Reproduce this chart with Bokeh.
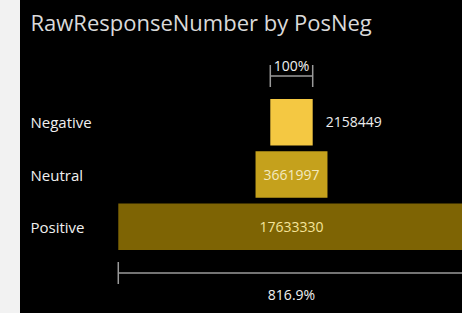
from bokeh.plotting import figure
from bokeh.models import ColumnDataSource, FactorRange, Range1d, LabelSet, Div
from bokeh.transform import dodge
from bokeh.layouts import row
from bokeh.embed import file_html
from bokeh.resources import INLINE
from bokeh.core.properties import value

# ---- data ----
title_text = "RawResponseNumber by PosNeg"
categories = ["Negative", "Neutral", "Positive"]
counts = [2158449, 3661997, 17633330]
bar_colors = ["#F4C842", "#C5A11C", "#7E6404"]
value_label_colors = ["#EDEDED", "#F3EAC0", "#F5E49A"]

# ---- layout constants ----
FONT = "Open Sans"
UNITS_PER_PX = 50900
CENTER_PX = 271
STRIP_W = 20
W, H = 442, 313

first, last = counts[0], counts[-1]
pct_first = f"{first / first * 100:.0f}%"
pct_last = f"{last / first * 100:.1f}%"

p = figure(width=W, height=H, output_backend="svg", toolbar_location=None,
           title=title_text,
           x_range=Range1d(-CENTER_PX * UNITS_PER_PX, (W - CENTER_PX) * UNITS_PER_PX),
           y_range=FactorRange(factors=categories[::-1], range_padding=1.065,
                               range_padding_units="absolute"),
           x_axis_location=None, y_axis_location=None,
           min_border_left=0, min_border_right=0, min_border_top=40, min_border_bottom=5,
           styles={"background-color": "black"})
p.grid.visible = False
p.outline_line_color = None
p.background_fill_color = "black"
p.border_fill_color = "black"
p.title.text_color = "#DADADA"
p.title.text_font = FONT
p.title.text_font_size = "22px"
p.title.text_font_style = "normal"
p.title.align = "left"
p.title.offset = 10
p.title.standoff = 8

# bars
src = ColumnDataSource(dict(
    cat=categories,
    left=[-v / 2 for v in counts],
    right=[v / 2 for v in counts],
    color=bar_colors,
))
p.hbar(y="cat", left="left", right="right", height=0.89, fill_color="color",
       line_color=None, source=src)

# value labels: inside if the bar is wide enough, else outside on the right
inside = [i for i, v in enumerate(counts) if v / UNITS_PER_PX > 66]
outside = [i for i, v in enumerate(counts) if v / UNITS_PER_PX <= 66]
src_in = ColumnDataSource(dict(cat=[categories[i] for i in inside],
                               x=[0 for i in inside],
                               label=[str(counts[i]) for i in inside],
                               lcolor=[value_label_colors[i] for i in inside]))
src_out = ColumnDataSource(dict(cat=[categories[i] for i in outside],
                                x=[counts[i] / 2 for i in outside],
                                label=[str(counts[i]) for i in outside],
                                lcolor=[value_label_colors[i] for i in outside]))
p.text(x="x", y="cat", text="label", source=src_in, text_color="lcolor",
       text_align="center", text_baseline="middle", text_font=value(FONT),
       text_font_size="14px")
p.text(x="x", y="cat", text="label", source=src_out, text_color="lcolor",
       text_align="left", text_baseline="middle", text_font=value(FONT),
       text_font_size="14px", x_offset=13)

# category labels
cat_labels = LabelSet(x=10, x_units="screen", y="cat", text="cat", source=src,
                      text_color="#F0F0F0", text_font=value(FONT),
                      text_font_size=value("15px"),
                      text_align="left", text_baseline="middle")
p.add_layout(cat_labels)

# brackets
LINE_C = "#9A9A9A"
top_src = ColumnDataSource(dict(cat=[categories[0]], lo=[-first / 2], hi=[first / 2],
                                mid=[0], txt=[pct_first]))
bot_src = ColumnDataSource(dict(cat=[categories[-1]], lo=[-last / 2], hi=[last / 2],
                                mid=[0], txt=[pct_last]))
for s, off, toff in [(top_src, 0.885, 1.08), (bot_src, -0.885, -1.30)]:
    yl = dodge("cat", off, range=p.y_range)
    p.segment(x0="lo", y0=yl, x1="hi", y1=yl, source=s, line_color=LINE_C, line_width=1.5)
    for xf in ["lo", "hi"]:
        p.segment(x0=xf, y0=dodge("cat", off - 0.21, range=p.y_range),
                  x1=xf, y1=dodge("cat", off + 0.21, range=p.y_range),
                  source=s, line_color=LINE_C, line_width=1.5)
    p.text(x="mid", y=dodge("cat", toff, range=p.y_range), text="txt", source=s,
           text_color="#F0F0F0", text_align="center", text_baseline="middle",
           text_font=value(FONT), text_font_size="14px")

strip = Div(width=STRIP_W, height=H, margin=(0, 0, 0, 0),
            styles={"background-color": "#F2F2F2"})
layout = row(strip, p, spacing=0)

open("out.html", "w").write(file_html(layout, INLINE))
